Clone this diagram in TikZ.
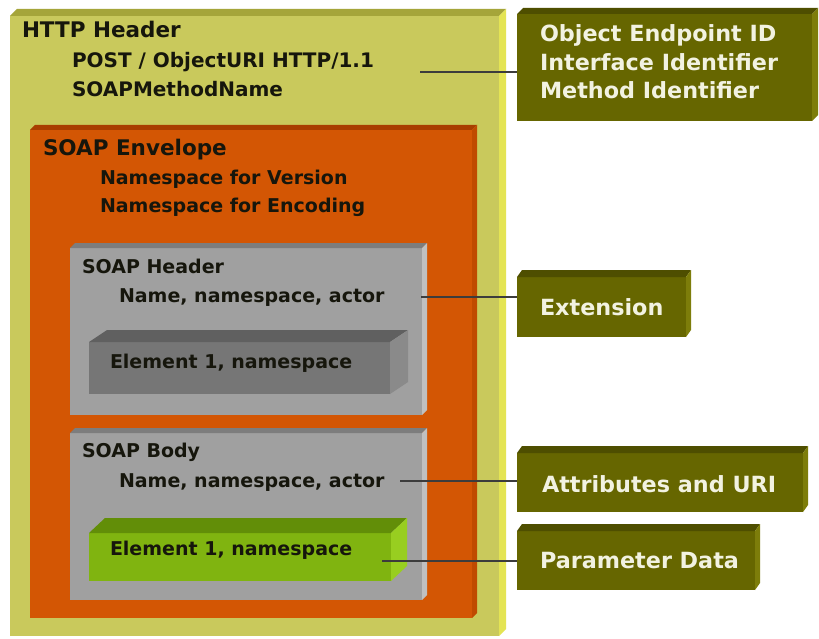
\documentclass[tikz,border=0pt]{standalone}
\usepackage{fontspec}
\setmainfont{DejaVu Sans}
\usetikzlibrary{calc}
\definecolor{httpF}{RGB}{201,201,92}
\definecolor{httpT}{RGB}{165,165,58}
\definecolor{httpS}{RGB}{228,228,84}
\definecolor{envF}{RGB}{211,86,4}
\definecolor{envT}{RGB}{168,62,0}
\definecolor{envS}{RGB}{192,74,0}
\definecolor{grayF}{RGB}{160,160,160}
\definecolor{grayT}{RGB}{125,125,125}
\definecolor{grayS}{RGB}{192,192,192}
\definecolor{elF}{RGB}{118,118,118}
\definecolor{elT}{RGB}{96,96,96}
\definecolor{elS}{RGB}{138,138,138}
\definecolor{grnF}{RGB}{128,180,16}
\definecolor{grnT}{RGB}{98,142,8}
\definecolor{grnS}{RGB}{152,206,32}
\definecolor{olF}{RGB}{102,102,0}
\definecolor{olT}{RGB}{78,78,0}
\definecolor{olS}{RGB}{125,125,10}
\definecolor{txtD}{RGB}{22,22,12}
\definecolor{txtW}{RGB}{242,242,225}
\definecolor{lineC}{RGB}{60,60,60}
\tikzset{
  face/.style={inner sep=0pt, outer sep=0pt, anchor=north west},
  dtxt/.style={inner sep=0pt, outer sep=0pt, anchor=base west, text=txtD, font=\bfseries\fontsize{19}{19}\selectfont},
  dtitle/.style={dtxt, font=\bfseries\fontsize{21.5}{21.5}\selectfont},
  wtxt/.style={inner sep=0pt, outer sep=0pt, anchor=base west, text=txtW, font=\bfseries\fontsize{22.3}{22.3}\selectfont},
  conn/.style={draw=lineC, line width=1.3pt},
}
\newcommand{\bevelbox}[5]{%
  \fill[#4] (#1.north west) -- ++(#2,-#3) -- ([shift={(#2,-#3)}]#1.north east) -- (#1.north east) -- cycle;
  \fill[#5] (#1.north east) -- ++(#2,-#3) -- ([shift={(#2,-#3)}]#1.south east) -- (#1.south east) -- cycle;
}
\begin{document}
\begin{tikzpicture}[x=1pt,y=-1pt]
\useasboundingbox (0,0) rectangle (819,639);
\fill[white] (0,0) rectangle (819,639);
% HTTP box
\node[face, fill=httpF, minimum width=489pt, minimum height=620pt] (http) at (10,16) {};
\bevelbox{http}{7}{7}{httpT}{httpS}
% Envelope
\node[face, fill=envF, minimum width=442pt, minimum height=488pt] (env) at (30,130) {};
\bevelbox{env}{5}{5}{envT}{envS}
% SOAP Header
\node[face, fill=grayF, minimum width=352pt, minimum height=167pt] (shdr) at (70,248) {};
\bevelbox{shdr}{5}{5}{grayT}{grayS}
% Header element
\node[face, fill=elF, minimum width=301pt, minimum height=52pt] (hel) at (89,342) {};
\bevelbox{hel}{18}{12}{elT}{elS}
% SOAP Body
\node[face, fill=grayF, minimum width=352pt, minimum height=167pt] (sbody) at (70,433) {};
\bevelbox{sbody}{5}{5}{grayT}{grayS}
% Body element
\node[face, fill=grnF, minimum width=302pt, minimum height=48pt] (bel) at (89,533) {};
\bevelbox{bel}{16}{15}{grnT}{grnS}
% Right boxes
\node[face, fill=olF, minimum width=295pt, minimum height=107pt] (obj) at (517,14) {};
\bevelbox{obj}{6}{6}{olT}{olS}
\node[face, fill=olF, minimum width=169pt, minimum height=60pt] (ext) at (517,277) {};
\bevelbox{ext}{5}{7}{olT}{olS}
\node[face, fill=olF, minimum width=286pt, minimum height=59pt] (attr) at (517,453) {};
\bevelbox{attr}{5}{7}{olT}{olS}
\node[face, fill=olF, minimum width=238pt, minimum height=59pt] (par) at (517,531) {};
\bevelbox{par}{5}{7}{olT}{olS}
% Texts
\node[dtitle] (t1) at (22,38) {HTTP Header};
\node[dtxt, font=\bfseries\fontsize{20}{20}\selectfont] (t2) at (72,68) {POST / ObjectURI HTTP/1.1};
\node[dtxt, font=\bfseries\fontsize{20}{20}\selectfont] (t3) at (72,97) {SOAPMethodName};
\node[dtitle] (t4) at (43,156) {SOAP Envelope};
\node[dtxt] (t5) at (100,185) {Namespace for Version};
\node[dtxt] (t6) at (100,213) {Namespace for Encoding};
\node[dtxt] (t7) at (82,273) {SOAP Header};
\node[dtxt] (t8) at (119,302) {Name, namespace, actor};
\node[dtxt] (t9) at (110,368) {Element 1, namespace};
\node[dtxt] (t10) at (82,457) {SOAP Body};
\node[dtxt] (t11) at (119,487) {Name, namespace, actor};
\node[dtxt] (t12) at (110,555) {Element 1, namespace};
\node[wtxt] (w1) at (540,42) {Object Endpoint ID};
\node[wtxt] (w2) at (540,71) {Interface Identifier};
\node[wtxt] (w3) at (540,99) {Method Identifier};
\node[wtxt] (w4) at (540,315) {Extension};
\node[wtxt] (w5) at (542,492) {Attributes and URI};
\node[wtxt] (w6) at (540,568) {Parameter Data};
% Connectors
\coordinate (c1) at (420,72);
\coordinate (c2) at (421,297);
\coordinate (c3) at (400,481);
\coordinate (c4) at (382,561);
\draw[conn] (c1) -- (obj.west |- c1);
\draw[conn] (c2) -- (ext.west |- c2);
\draw[conn] (c3) -- (attr.west |- c3);
\draw[conn] (c4) -- (par.west |- c4);
\end{tikzpicture}
\end{document}
